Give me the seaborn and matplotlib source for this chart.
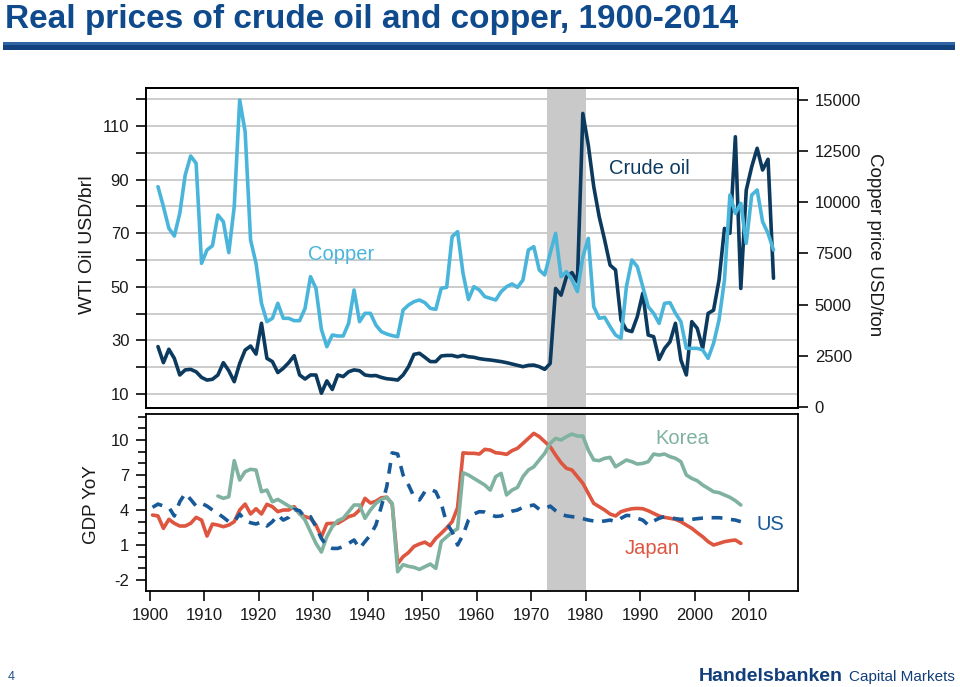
import matplotlib
matplotlib.use("Agg")

import matplotlib.pyplot as plt
from matplotlib import font_manager
from matplotlib.patches import Rectangle
from matplotlib.ticker import MultipleLocator
import numpy as np
import pandas as pd
import seaborn as sns

# ---- data --------------------------------------------------------------
PRICE_YEARS = list(range(1901, 2015))
COPPER = [
    10765, 9788, 8730, 8355, 9462, 11336, 12264, 11905, 7020, 7671,
    7883, 9381, 9055, 7541, 9788, 15000, 13453, 8160, 7020, 5065,
    4170, 4333, 5065, 4333, 4333, 4218, 4218, 4821, 6368, 5798,
    3795, 2948, 3518, 3469, 3469, 4088, 5717, 4170, 4577, 4577,
    4006, 3681, 3567, 3486, 3437, 4739, 4984, 5147, 5228, 5098,
    4821, 4772, 5798, 5847, 8323, 8567, 6531, 5250,
    5880, 5717, 5392, 5310, 5228, 5636, 5880, 6010, 5847, 6205,
    7671, 7834, 6694, 6450, 7508, 8485, 6368, 6612, 6205, 5636,
    7345, 8241, 4902, 4333, 4381, 3925, 3518, 3355, 5880, 7182,
    6857, 5880, 4902, 4577, 4088, 5065, 5098, 4577, 4170, 2866,
    2866, 2866, 2785, 2378, 3111, 4251, 6205, 10358, 9462, 9951,
    7997, 10358, 10603, 9055, 8485, 7671,
]
OIL = [
    27.7, 21.7, 26.7, 23.3, 17.1, 19.0, 19.2, 18.3, 16.2, 15.2,
    15.5, 17.1, 21.7, 18.7, 14.6, 21.4, 26.4, 27.9, 24.9, 36.4,
    23.3, 22.1, 18.0, 19.6, 21.7, 24.3, 17.1, 15.6, 17.1, 17.1,
    10.3, 14.9, 11.7, 17.1, 16.5, 18.3, 19.0, 18.7, 17.1, 16.8,
    16.9, 16.2, 15.7, 15.5, 15.2, 17.1, 20.2, 24.8, 25.2, 23.7,
    22.1, 22.1, 24.2, 24.4, 24.4, 23.9, 24.4, 23.9,
    23.7, 23.2, 22.9, 22.7, 22.4, 22.1, 21.7, 21.2, 20.7, 20.2,
    20.7, 20.8, 20.2, 19.2, 21.4, 49.4, 46.9, 53.8, 55.3, 51.9,
    114.7, 102.9, 87.4, 76.2, 67.5, 58.1, 56.3, 37.6, 33.9, 33.3,
    38.9, 47.6, 32.0, 31.4, 22.9, 27.0, 29.5, 36.4, 22.7, 17.1,
    37.0, 34.5, 27.0, 40.1, 41.3, 52.5, 71.8, 70.0, 106.0, 49.4,
    86.1, 94.8, 101.7, 93.6, 97.6, 53.2,
]

GDP_YEARS = list(range(1900, 2009))
JAPAN = [
    3.57, 3.49, 2.43, 3.20, 2.86, 2.63, 2.63, 2.86, 3.37, 3.14,
    1.77, 2.80, 2.71, 2.57, 2.71, 3.00, 4.00, 4.51, 3.66, 4.11,
    3.66, 4.49, 4.29, 3.86, 4.00, 4.00, 4.29, 3.66, 3.43, 3.30,
    2.71, 1.70, 2.83, 2.86, 2.86, 3.14, 3.43, 3.57, 4.00, 5.00,
    4.60, 4.75, 5.05, 5.10, 4.50, -0.60, 0.00, 0.36, 0.88, 1.09,
    1.25, 0.95, 1.57, 2.00, 2.47, 3.00, 4.20, 8.90, 8.86, 8.86,
    8.80, 9.20, 9.14, 8.91, 8.86, 8.77, 9.09, 9.29, 9.71, 10.14,
    10.57, 10.29, 9.86, 9.43, 8.71, 8.06, 7.57, 7.43, 6.86, 6.29,
    5.43, 4.57, 4.29, 4.00, 3.66, 3.49, 3.86, 4.00, 4.11, 4.14,
    4.11, 3.94, 3.71, 3.49, 3.37, 3.29, 3.20, 3.00, 2.71, 2.43,
    2.06, 1.71, 1.29, 1.00, 1.14, 1.29, 1.37, 1.43, 1.14,
]
US = [
    4.23, 4.51, 4.34, 4.23, 3.49, 4.71, 5.43, 4.91, 4.34, 4.57,
    4.34, 4.00, 3.71, 3.37, 3.00, 3.00, 3.66, 3.09, 2.91, 2.80,
    3.00, 2.63, 3.00, 3.57, 3.14, 3.37, 4.06, 3.94, 3.37, 3.43,
    2.57, 1.57, 0.91, 0.71, 0.71, 0.86, 1.14, 1.43, 0.71, 1.29,
    1.86, 2.71, 4.29, 6.00, 8.90, 8.80, 7.00, 6.14, 5.14, 4.86,
    5.57, 5.77, 5.57, 4.57, 2.86, 2.14, 1.00, 1.86, 3.14, 3.66,
    3.86, 3.83, 3.60, 3.45, 3.49, 3.71, 3.90, 4.00, 4.23, 4.34,
    4.43, 4.06, 4.10, 4.34, 3.94, 3.63, 3.50, 3.43, 3.37, 3.26,
    3.14, 3.06, 3.00, 3.06, 3.14, 3.00, 3.29, 3.54, 3.51, 3.29,
    3.14, 2.71, 3.06, 3.29, 3.43, 3.34, 3.26, 3.20, 3.23, 3.20,
    3.26, 3.31, 3.34, 3.34, 3.34, 3.29, 3.20, 3.14, 3.00,
]
KOREA_YEARS = list(range(1912, 2009))
KOREA = [
    5.20, 5.00, 5.14, 8.23, 6.57, 7.29, 7.49, 7.43, 5.57, 5.71,
    4.71, 4.91, 4.63, 4.34, 4.14, 3.71, 3.14, 2.14, 1.14, 0.40,
    1.71, 2.57, 3.09, 3.29, 3.86, 4.43, 4.43, 3.29, 4.00, 4.57,
    4.91, 5.09, 4.57, -1.29, -0.68, -0.83, -0.91, -1.09, -0.86, -0.63,
    -1.00, 1.29, 1.70, 2.10, 2.40, 7.20,
    7.00, 6.71, 6.43, 6.14, 5.71, 6.86, 7.14, 5.29, 5.71, 5.94,
    6.86, 7.43, 7.71, 8.29, 8.86, 9.71, 10.14, 10.00, 10.29, 10.51,
    10.34, 10.34, 9.14, 8.29, 8.23, 8.43, 8.51, 7.71, 8.00, 8.29,
    8.14, 7.94, 8.00, 8.14, 8.80, 8.71, 8.80, 8.57, 8.43, 8.14,
    7.00, 6.71, 6.51, 6.14, 5.86, 5.57, 5.49, 5.29, 5.09, 4.80,
    4.43,
]

SHOCK_START, SHOCK_END = 1973, 1980
OIL_TICKS = list(range(10, 130, 10))
OIL_LABELS = [str(t) if (t // 10) % 2 == 1 else "" for t in OIL_TICKS]
COPPER_TICKS = list(range(0, 15001, 2500))
GDP_TICKS = [-2, 1, 4, 7, 10]
YEAR_TICKS = list(range(1900, 2011, 10))

COLORS = {
    "copper": "#4ab5da",
    "oil":    "#0c3a5e",
    "japan":  "#df5640",
    "korea":  "#80b2a0",
    "us":     "#18599a",
    "band":   "#c9c9c9",
    "grid":   "#c4c4c4",
    "title":  "#0f4a8c",
    "ink":    "#1a1a1a",
}
LW = 2.6

sns.set_theme(style="ticks", rc={
    "axes.edgecolor": "black",
    "axes.linewidth": 1.3,
    "axes.unicode_minus": False,
    "xtick.color": COLORS["ink"],
    "ytick.color": COLORS["ink"],
    "axes.labelcolor": COLORS["ink"],
    "text.color": COLORS["ink"],
})
plt.rcParams["font.family"] = ["Liberation Sans", "DejaVu Sans"]

# condensed face for the slide title / footer if it is installed
_names = {f.name for f in font_manager.fontManager.ttflist}
HAS_NARROW = "Liberation Sans Narrow" in _names
NARROW = ["Liberation Sans Narrow", "Liberation Sans"] if HAS_NARROW else ["Liberation Sans"]

# mid-year positions
px = np.array(PRICE_YEARS) + 0.5
prices = pd.DataFrame({"x": px, "copper": COPPER, "oil": OIL})
gdp = pd.DataFrame({"x": np.array(GDP_YEARS) + 0.5, "japan": JAPAN, "us": US})
korea = pd.DataFrame({"x": np.array(KOREA_YEARS) + 0.5, "korea": KOREA})

W, H = 960, 687
fig = plt.figure(figsize=(W / 100, H / 100), dpi=100)
ax_top = fig.add_axes([146 / W, 1 - 408 / H, 652 / W, 320 / H])
ax_bot = fig.add_axes([146 / W, 1 - 591 / H, 652 / W, 177 / H])
XLIM = (1899.3, 2019.0)

# ---- top: prices -------------------------------------------------------
ax_top.axvspan(SHOCK_START, SHOCK_END, color=COLORS["band"], lw=0, zorder=1)
sns.lineplot(data=prices, x="x", y="oil", ax=ax_top, color=COLORS["oil"],
             lw=LW, zorder=3)
ax_top.set_xlim(*XLIM)
ax_top.set_ylim(4.78, 124.2)
ax_top.set_yticks(OIL_TICKS)
ax_top.set_yticklabels(OIL_LABELS)
ax_top.grid(axis="y", color=COLORS["grid"], lw=1.2)
ax_top.set_axisbelow(True)
ax_top.tick_params(axis="x", bottom=False, labelbottom=False)
ax_top.tick_params(axis="y", direction="out", length=7, width=1.3,
                   labelsize=12, pad=5)
ax_top.set_xlabel("")
ax_top.set_ylabel("WTI Oil USD/brl", fontsize=14, va="center")
ax_top.yaxis.set_label_coords(-0.089, 0.51)
ax_top.text(1935.1, 61.9, "Copper", color=COLORS["copper"], fontsize=14.5,
            ha="center", va="center")
ax_top.text(1991.8, 94.3, "Crude oil", color=COLORS["oil"], fontsize=14.5,
            ha="center", va="center")

ax_cu = ax_top.twinx()
sns.lineplot(data=prices, x="x", y="copper", ax=ax_cu, color=COLORS["copper"],
             lw=LW, zorder=3)
ax_cu.set_xlim(*XLIM)
ax_cu.set_ylim(-49, 15586)
ax_cu.set_yticks(COPPER_TICKS)
ax_cu.grid(False)
ax_cu.tick_params(axis="y", direction="out", length=7, width=1.3,
                  labelsize=12, pad=5)
ax_cu.set_xlabel("")
ax_cu.set_ylabel("Copper price USD/ton", fontsize=13.5, rotation=270,
                 va="center")
ax_cu.yaxis.set_label_coords(1.117, 0.51)

# ---- bottom: GDP growth -------------------------------------------------
ax_bot.axvspan(SHOCK_START, SHOCK_END, color=COLORS["band"], lw=0, zorder=1)
sns.lineplot(data=gdp, x="x", y="japan", ax=ax_bot, color=COLORS["japan"],
             lw=LW, zorder=3)
sns.lineplot(data=korea, x="x", y="korea", ax=ax_bot, color=COLORS["korea"],
             lw=LW, zorder=4)
sns.lineplot(data=gdp, x="x", y="us", ax=ax_bot, color=COLORS["us"],
             lw=LW, zorder=5, linestyle=(0, (3.0, 2.4)))
ax_bot.set_xlim(*XLIM)
ax_bot.set_ylim(-2.94, 12.23)
ax_bot.set_yticks(GDP_TICKS)
ax_bot.yaxis.set_minor_locator(MultipleLocator(1))
ax_bot.set_xticks(YEAR_TICKS)
ax_bot.tick_params(axis="both", which="major", direction="out", length=7,
                   width=1.3, labelsize=12, pad=5)
ax_bot.tick_params(axis="y", which="minor", direction="out", length=6,
                   width=1.3, left=True)
ax_bot.set_xlabel("")
ax_bot.set_ylabel("GDP YoY", fontsize=13.5, va="center")
ax_bot.yaxis.set_label_coords(-0.083, 0.49)
ax_bot.text(1997.7, 10.1, "Korea", color=COLORS["korea"], fontsize=14.5,
            ha="center", va="center")
ax_bot.text(1992.2, 0.74, "Japan", color=COLORS["japan"], fontsize=14.5,
            ha="center", va="center")
ax_bot.text(2013.9, 2.8, "US", color=COLORS["us"], fontsize=14.5,
            ha="center", va="center")

# ---- slide furniture ------------------------------------------------------
fig.text(5 / W, 1 - 28 / H, "Real prices of crude oil and copper, 1900-2014",
         fontsize=29 if HAS_NARROW else 24, fontweight="bold",
         family=NARROW, color=COLORS["title"], va="baseline")
fig.add_artist(Rectangle((3 / W, 1 - 50 / H), 952 / W, 8 / H,
                         transform=fig.transFigure, color="#12427d", lw=0))
fig.add_artist(Rectangle((3 / W, 1 - 45 / H), 952 / W, 3 / H,
                         transform=fig.transFigure, color="#2e64a3", lw=0))
fig.text(8 / W, 1 - 680 / H, "4", fontsize=9, color="#1f4e8c", va="baseline")
fig.text(843 / W, 1 - 681 / H, "Handelsbanken",
         fontsize=16.5 if HAS_NARROW else 14, fontweight="bold",
         family=NARROW, color="#123f7a", ha="right", va="baseline")
fig.text(955 / W, 1 - 681 / H, "Capital Markets",
         fontsize=13 if HAS_NARROW else 11, family=NARROW,
         color="#123f7a", ha="right", va="baseline")

fig.savefig("out.png", dpi=100)
